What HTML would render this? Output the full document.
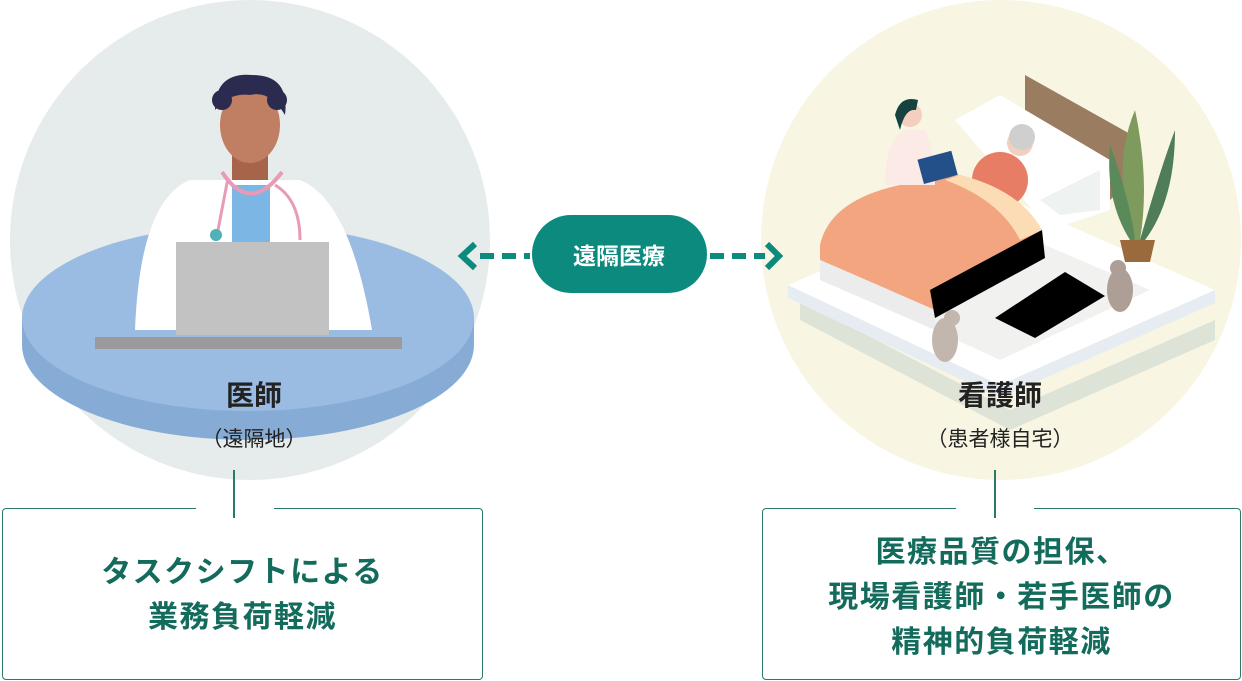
<!DOCTYPE html>
<html><head><meta charset="utf-8"><style>
html,body{margin:0;padding:0;background:#fff;}
body{width:1242px;height:681px;position:relative;overflow:hidden;font-family:"Liberation Sans","Noto Sans CJK JP",sans-serif;}
.t{position:absolute;text-align:center;color:#222;}
.box{position:absolute;border:1.5px solid #2a7a6c;border-radius:4px;box-sizing:border-box;}
.gap{position:absolute;background:#fff;height:4px;}
.vl{position:absolute;width:1.5px;background:#2a7a6c;top:470px;height:48px;}
.bt{position:absolute;text-align:center;color:#136b5c;font-weight:bold;font-size:30px;letter-spacing:1.5px;line-height:45px;}
</style></head><body>
<svg width="1242" height="681" style="position:absolute;left:0;top:0">
<circle cx="250" cy="240" r="240" fill="#e6ecec"/>
<circle cx="1001" cy="240" r="240" fill="#f8f6e2"/>
<ellipse cx="248" cy="345" rx="226" ry="95" fill="#86acd6"/>
<rect x="22" y="318" width="452" height="27" fill="#86acd6"/>
<ellipse cx="248" cy="318" rx="226" ry="93" fill="#9abbe2"/>
<path d="M135 330 Q140 200 190 180 L300 180 Q350 200 372 330 Z" fill="#fff"/>
<rect x="232" y="185" width="38" height="60" fill="#7bb6e4"/>
<path d="M222 172 Q250 215 282 172" fill="none" stroke="#e79bb6" stroke-width="4"/>
<path d="M228 178 L218 230" stroke="#e79bb6" stroke-width="3"/>
<circle cx="216" cy="235" r="6" fill="#4fb3b6"/>
<path d="M275 185 Q300 200 300 240" fill="none" stroke="#e79bb6" stroke-width="3"/>
<rect x="232" y="140" width="36" height="40" fill="#a8644a"/>
<ellipse cx="250" cy="125" rx="30" ry="38" fill="#c07e62"/>
<path d="M215 110 Q215 72 252 75 Q290 75 285 115 Q270 90 250 95 Q230 92 215 110Z" fill="#2b2b4f"/>
<circle cx="222" cy="100" r="10" fill="#2b2b4f"/><circle cx="277" cy="100" r="10" fill="#2b2b4f"/>
<rect x="176" y="242" width="153" height="93" fill="#c2c2c2"/>
<rect x="95" y="337" width="307" height="12" fill="#9a9a9a"/>
<line x1="480" y1="256" x2="530" y2="256" stroke="#0d8a7e" stroke-width="6" stroke-dasharray="14,8"/>
<line x1="710" y1="256" x2="765" y2="256" stroke="#0d8a7e" stroke-width="6" stroke-dasharray="14,8"/>
<path d="M475 244 L462 256 L475 268" fill="none" stroke="#0d8a7e" stroke-width="6"/>
<path d="M767 244 L779 256 L767 268" fill="none" stroke="#0d8a7e" stroke-width="6"/>
<rect x="532" y="215" width="175" height="78" rx="39" fill="#0d8a7e"/>
<text x="619" y="264" text-anchor="middle" font-size="23" font-weight="bold" fill="#fff" font-family="Liberation Sans,Noto Sans CJK JP,sans-serif">遠隔医療</text>
<polygon points="800,300 1010,410 1215,320 1215,340 1010,430 800,320" fill="#c7d4cc" opacity="0.55"/>
<polygon points="788,285 1000,385 1215,290 1215,303 1000,398 788,298" fill="#e7ecf2"/>
<polygon points="788,285 1000,195 1215,290 1000,385" fill="#fff"/>
<polygon points="870,300 1000,360 1150,290 1010,230" fill="#f1f1f0"/>
<polygon points="1025,75 1132,135 1132,180 1110,200 1100,170 1025,120" fill="#9a7c60"/>
<polygon points="955,120 1000,95 1110,160 1110,210 1050,230" fill="#fff"/>
<polygon points="1040,200 1100,170 1100,210 1060,215" fill="#eef2f1"/>
<ellipse cx="1000" cy="180" rx="28" ry="28" fill="#e87d66"/>
<circle cx="1020" cy="143" r="13" fill="#f3cfbf"/>
<circle cx="1022" cy="137" r="13" fill="#cfcfcf"/>
<path d="M820 245 Q830 200 900 185 L960 175 Q1020 190 1040 230 L1040 260 L935 310 L820 260Z" fill="#f2a57f"/>
<path d="M960 175 Q1020 190 1042 230 L1020 240 Q1000 200 945 180Z" fill="#fbdcb4"/>
<polygon points="820,260 935,310 935,330 820,280" fill="#ececec"/>
<polygon points="930,290 1042,230 1045,258 935,318" fill="#000"/>
<polygon points="995,318 1065,272 1105,296 1035,338" fill="#000"/>
<path d="M885 185 Q885 140 905 130 L925 130 Q935 150 935 185Z" fill="#fbeae6"/>
<circle cx="910" cy="115" r="12" fill="#f3cfbf"/>
<path d="M895 115 Q900 95 918 100 L916 110 Q905 108 900 130Z" fill="#16423f"/>
<rect x="920" y="155" width="35" height="25" fill="#24508a" transform="rotate(-15 937 167)"/>
<path d="M1120 240 L1155 240 L1150 262 L1125 262Z" fill="#9a6a3c"/>
<path d="M1135 240 Q1110 170 1135 110 Q1150 180 1140 240Z" fill="#7e9a5c"/>
<path d="M1140 240 Q1160 170 1175 130 Q1175 200 1145 240Z" fill="#4e7d58"/>
<path d="M1130 240 Q1105 200 1110 145 Q1130 200 1135 240Z" fill="#5a8a5a"/>
<ellipse cx="1120" cy="290" rx="13" ry="22" fill="#ad9e96"/><circle cx="1118" cy="268" r="8" fill="#ad9e96"/>
<ellipse cx="945" cy="340" rx="13" ry="22" fill="#c2b6ad"/><circle cx="952" cy="318" r="8" fill="#c2b6ad"/>
</svg>
<div class="t" style="left:154px;top:374px;width:200px;font-size:28px;font-weight:bold;">医師</div>
<div class="t" style="left:134px;top:423px;width:240px;font-size:21px;">（遠隔地）</div>
<div class="t" style="left:900px;top:374px;width:200px;font-size:28px;font-weight:bold;">看護師</div>
<div class="t" style="left:880px;top:423px;width:240px;font-size:21px;">（患者様自宅）</div>
<div class="box" style="left:2px;top:508px;width:481px;height:172px;"></div>
<div class="gap" style="left:196px;top:506px;width:78px;"></div>
<div class="vl" style="left:233px;"></div>
<div class="bt" style="left:2px;top:550px;width:481px;">タスクシフトによる<br>業務負荷軽減</div>
<div class="box" style="left:762px;top:508px;width:479px;height:172px;"></div>
<div class="gap" style="left:956px;top:506px;width:78px;"></div>
<div class="vl" style="left:994px;"></div>
<div class="bt" style="left:762px;top:530px;width:479px;">医療品質の担保、<br>現場看護師・若手医師の<br>精神的負荷軽減</div>
</body></html>
